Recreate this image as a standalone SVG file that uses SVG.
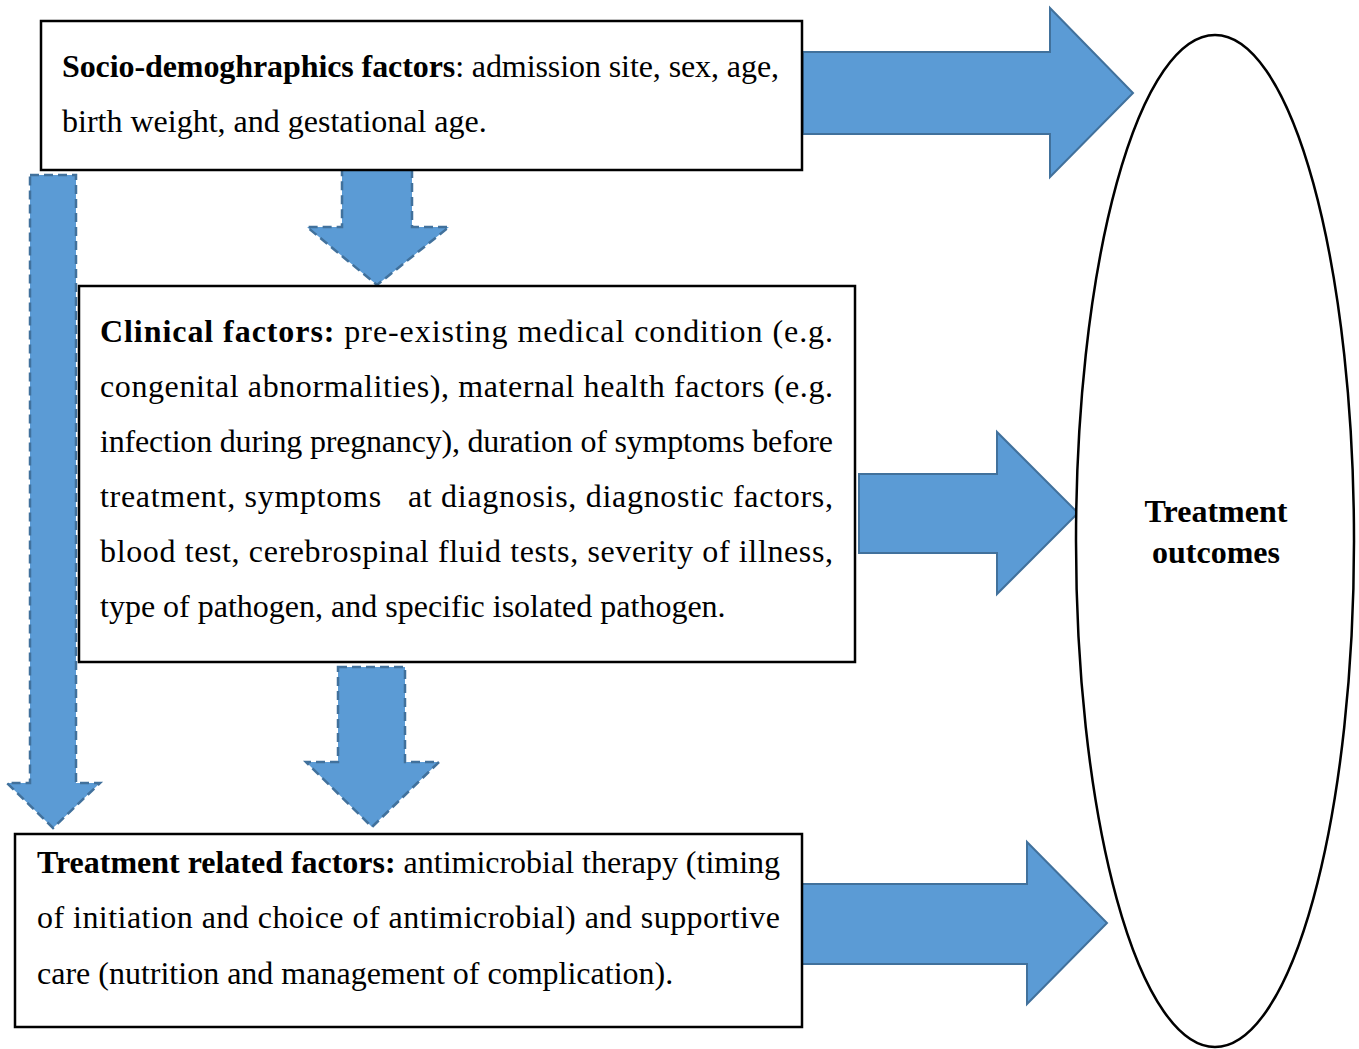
<svg xmlns="http://www.w3.org/2000/svg" width="1359" height="1049" viewBox="0 0 1359 1049">
<style>
.box{fill:#fff;stroke:#000;stroke-width:2.5}
.arr{fill:#5B9BD5;stroke:#41719C;stroke-width:2}
.darr{fill:#5B9BD5;stroke:#41719C;stroke-width:2.5;stroke-dasharray:9 5}
.t{font-family:"Liberation Serif","Times New Roman",serif;font-size:32px;fill:#000}
.b{font-weight:bold}
</style>
<rect width="1359" height="1049" fill="#fff"/>
<g id="connectors">
<path class="arr" d="M803,52 H1050 V8 L1133,93 L1050,177 V134 H803 Z"/>
<path class="arr" d="M859,474 H997 V432 L1078,513 L997,594 V553 H859 Z"/>
<path class="arr" d="M800,884 H1027 V842 L1107,923 L1027,1004 V964 H800 Z"/>
<path class="darr" d="M30,175 H76 V783 H100 L53,828 L7,783 H30 Z"/>
<path class="darr" d="M342,169 H412 V227 H449 L377,285 L307,227 H342 Z"/>
<path class="darr" d="M338,667 H405 V762 H439 L372,827 L306,762 H338 Z"/>
</g>
<g id="outcomes">
<ellipse cx="1215" cy="541" rx="139" ry="506" fill="#fff" stroke="#000" stroke-width="2.5"/>
<text class="t b" x="1216" y="522" text-anchor="middle">Treatment</text>
<text class="t b" x="1216" y="563" text-anchor="middle">outcomes</text>
</g>
<g id="socio">
<rect class="box" x="41" y="21" width="761" height="149"/>
<text class="t" x="62" y="77" textLength="717" lengthAdjust="spacing"><tspan class="b">Socio-demoghraphics factors</tspan>: admission site, sex, age,</text>
<text class="t" x="62" y="132">birth weight, and gestational age.</text>
</g>
<g id="clinical">
<rect class="box" x="79" y="286" width="776" height="376"/>
<text class="t" x="100" y="342" textLength="733" lengthAdjust="spacing"><tspan class="b">Clinical factors:</tspan> pre-existing medical condition (e.g.</text>
<text class="t" x="100" y="397" textLength="733" lengthAdjust="spacing">congenital abnormalities), maternal health factors (e.g.</text>
<text class="t" x="100" y="452" textLength="733" lengthAdjust="spacing">infection during pregnancy), duration of symptoms before</text>
<text class="t" x="100" y="507" textLength="733" lengthAdjust="spacing" xml:space="preserve">treatment, symptoms   at diagnosis, diagnostic factors,</text>
<text class="t" x="100" y="562" textLength="733" lengthAdjust="spacing">blood test, cerebrospinal fluid tests, severity of illness,</text>
<text class="t" x="100" y="617">type of pathogen, and specific isolated pathogen.</text>
</g>
<g id="treatment">
<rect class="box" x="15" y="834" width="787" height="193"/>
<text class="t" x="37" y="873" textLength="743" lengthAdjust="spacing"><tspan class="b">Treatment related factors:</tspan> antimicrobial therapy (timing</text>
<text class="t" x="37" y="928" textLength="743" lengthAdjust="spacing">of initiation and choice of antimicrobial) and supportive</text>
<text class="t" x="37" y="984">care (nutrition and management of complication).</text>
</g>
</svg>
